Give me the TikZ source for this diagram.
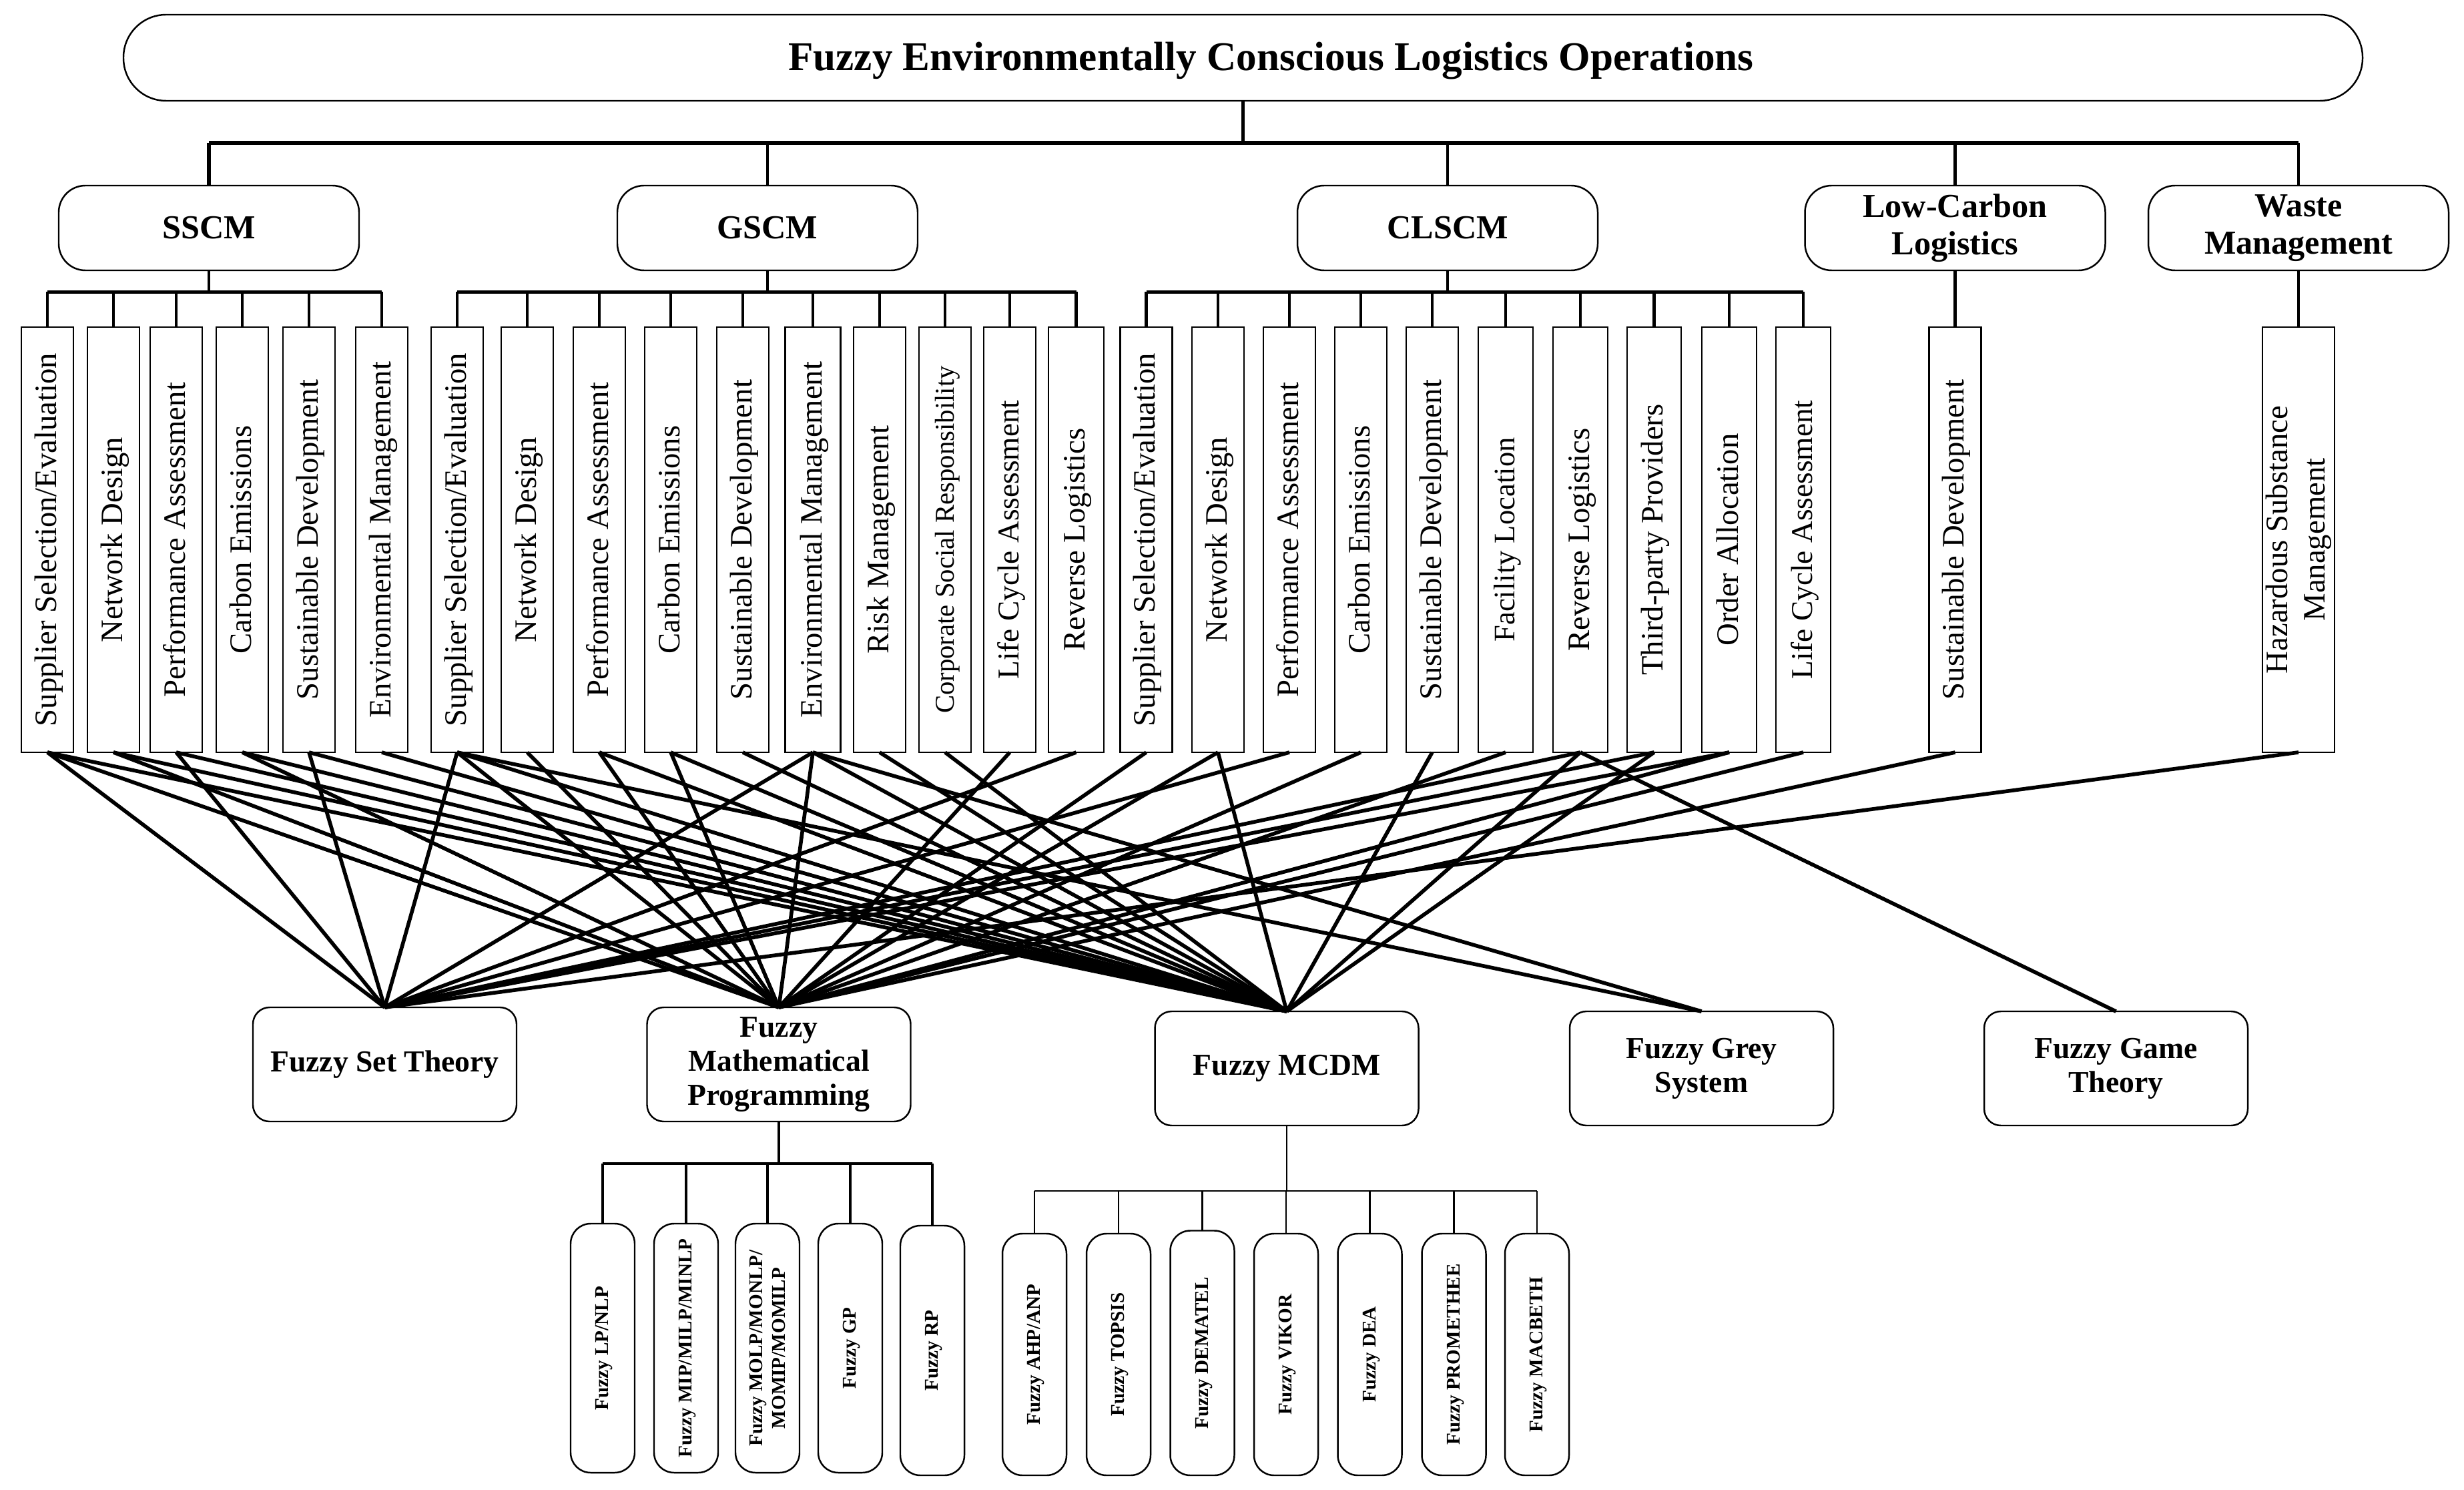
\documentclass[tikz,border=0pt]{standalone}
\usepackage{fontspec}
\setmainfont{Liberation Serif}
\tikzset{
  box/.style={draw=black,line width=0.7pt,inner sep=0pt,outer sep=0pt,align=center},
  titlebox/.style={box,rounded corners=0.64cm,minimum width=33.55cm,minimum height=1.29cm,text height=13.5pt,text depth=2.9pt,font=\fontsize{17.4}{20}\selectfont\bfseries},
  groupbox/.style={box,rounded corners=0.4cm,minimum width=4.5cm,minimum height=1.27cm,font=\fontsize{14.3}{16}\selectfont\bfseries},
  itembox/.style={box,rotate=90,minimum width=6.37cm,minimum height=0.78cm,text height=10pt,text depth=2.5pt,font=\fontsize{13.3}{16}\selectfont},
  fieldbox/.style={box,rounded corners=0.25cm,minimum width=3.95cm,minimum height=1.71cm,font=\fontsize{13}{14.4}\selectfont\bfseries},
  methodbox/.style={box,rotate=90,rounded corners=0.3cm,minimum height=0.96cm,text height=6.5pt,text depth=1.5pt,font=\fontsize{8.3}{9.5}\selectfont\bfseries},
  bus/.style={line width=1.6pt},
  branch/.style={line width=1.25pt},
  thinbranch/.style={line width=0.8pt},
  link/.style={line width=1.6pt}
}
\begin{document}
\begin{tikzpicture}
\useasboundingbox (0,0) rectangle (36.92,-22.32);

% top levels
\node[titlebox] (title) at (18.625,-0.865) {\hspace*{0.84cm}Fuzzy Environmentally Conscious Logistics Operations};
\node[groupbox] (sscm) at (3.13,-3.415) {SSCM};
\node[groupbox] (gscm) at (11.5,-3.415) {GSCM};
\node[groupbox] (clscm) at (21.69,-3.415) {CLSCM};
\node[groupbox] (lowc) at (29.295,-3.415) {Low-Carbon\\Logistics};
\node[groupbox] (waste) at (34.44,-3.415) {Waste\\Management};

% SSCM topics
\node[itembox] (s1) at (0.71,-8.085) {Supplier Selection/Evaluation};
\node[itembox] (s2) at (1.70,-8.085) {Network Design};
\node[itembox] (s3) at (2.64,-8.085) {Performance Assessment};
\node[itembox] (s4) at (3.63,-8.085) {Carbon Emissions};
\node[itembox] (s5) at (4.63,-8.085) {Sustainable Development};
\node[itembox] (s6) at (5.72,-8.085) {Environmental Management};

% GSCM topics
\node[itembox] (g1) at (6.85,-8.085) {Supplier Selection/Evaluation};
\node[itembox] (g2) at (7.90,-8.085) {Network Design};
\node[itembox] (g3) at (8.98,-8.085) {Performance Assessment};
\node[itembox] (g4) at (10.05,-8.085) {Carbon Emissions};
\node[itembox] (g5) at (11.13,-8.085) {Sustainable Development};
\node[itembox,minimum height=0.83cm] (g6) at (12.18,-8.085) {Environmental Management};
\node[itembox] (g7) at (13.18,-8.085) {Risk Management};
\node[itembox,font=\fontsize{11.6}{14}\selectfont] (g8) at (14.16,-8.085) {Corporate Social Responsibility};
\node[itembox,font=\fontsize{12.9}{16}\selectfont] (g9) at (15.13,-8.085) {Life Cycle Assessment};
\node[itembox,minimum height=0.83cm] (g10) at (16.125,-8.085) {Reverse Logistics};

% CLSCM topics
\node[itembox] (c1) at (17.175,-8.085) {Supplier Selection/Evaluation};
\node[itembox] (c2) at (18.25,-8.085) {Network Design};
\node[itembox] (c3) at (19.32,-8.085) {Performance Assessment};
\node[itembox] (c4) at (20.39,-8.085) {Carbon Emissions};
\node[itembox] (c5) at (21.46,-8.085) {Sustainable Development};
\node[itembox,minimum height=0.82cm,font=\fontsize{12.7}{16}\selectfont] (c6) at (22.56,-8.085) {Facility Location};
\node[itembox,minimum height=0.82cm] (c7) at (23.68,-8.085) {Reverse Logistics};
\node[itembox,minimum height=0.81cm] (c8) at (24.785,-8.085) {Third-party Providers};
\node[itembox,minimum height=0.82cm] (c9) at (25.91,-8.085) {Order Allocation};
\node[itembox,minimum height=0.82cm,font=\fontsize{12.9}{16}\selectfont] (c10) at (27.02,-8.085) {Life Cycle Assessment};

% single topics
\node[itembox] (l1) at (29.295,-8.085) {Sustainable Development};
\node[itembox,minimum height=1.08cm,text height=,text depth=] (w1) at (34.44,-8.085) {Hazardous Substance\\Management};

% fuzzy fields
\node[fieldbox] (fst) at (5.765,-15.945) {Fuzzy Set Theory};
\node[fieldbox] (fmp) at (11.67,-15.945) {Fuzzy\\Mathematical\\Programming};
\node[fieldbox] (mcdm) at (19.28,-16.005) {Fuzzy MCDM};
\node[fieldbox] (grey) at (25.495,-16.005) {Fuzzy Grey\\System};
\node[fieldbox] (game) at (31.705,-16.005) {Fuzzy Game\\Theory};

% methods below programming
\node[methodbox,minimum width=3.73cm] (p1) at (9.03,-20.195) {Fuzzy LP/NLP};
\node[methodbox,minimum width=3.73cm] (p2) at (10.28,-20.195) {Fuzzy MIP/MILP/MINLP};
\node[methodbox,minimum width=3.73cm,text height=,text depth=] (p3) at (11.50,-20.195) {Fuzzy MOLP/MONLP/\\MOMIP/MOMILP};
\node[methodbox,minimum width=3.73cm] (p4) at (12.74,-20.195) {Fuzzy GP};
\node[methodbox,minimum width=3.74cm] (p5) at (13.97,-20.23) {Fuzzy RP};

% methods below MCDM
\node[methodbox,minimum width=3.62cm] (m1) at (15.50,-20.29) {Fuzzy AHP/ANP};
\node[methodbox,minimum width=3.62cm] (m2) at (16.76,-20.29) {Fuzzy TOPSIS};
\node[methodbox,minimum width=3.665cm] (m3) at (18.015,-20.2675) {Fuzzy DEMATEL};
\node[methodbox,minimum width=3.62cm] (m4) at (19.27,-20.29) {Fuzzy VIKOR};
\node[methodbox,minimum width=3.62cm] (m5) at (20.525,-20.29) {Fuzzy DEA};
\node[methodbox,minimum width=3.62cm] (m6) at (21.785,-20.29) {Fuzzy PROMETHEE};
\node[methodbox,minimum width=3.62cm] (m7) at (23.03,-20.29) {Fuzzy MACBETH};

% bus junctions
\coordinate (topbus) at (18.625,-2.14);
\coordinate (sscmbus) at (3.13,-4.375);
\coordinate (gscmbus) at (11.5,-4.375);
\coordinate (clscmbus) at (21.69,-4.375);
\coordinate (fmpbus) at (11.67,-17.43);
\coordinate (mcdmbus) at (19.28,-17.84);

\draw[branch] (title.south) -- (topbus);
\draw[bus] (sscm.north |- topbus) -- (waste.north |- topbus);
\draw[bus] (sscm.north) -- (sscm.north |- topbus);
\draw[branch] (gscm.north) -- (gscm.north |- topbus);
\draw[branch] (clscm.north) -- (clscm.north |- topbus);
\draw[branch] (lowc.north) -- (lowc.north |- topbus);
\draw[branch] (waste.north) -- (waste.north |- topbus);

\draw[branch] (sscm.south) -- (sscmbus);
\draw[bus] (s1.east |- sscmbus) -- (s6.east |- sscmbus);
\foreach \i in {s1,s2,s3,s4,s5,s6}
  \draw[branch] (\i.east) -- (\i.east |- sscmbus);

\draw[branch] (gscm.south) -- (gscmbus);
\draw[bus] (g1.east |- gscmbus) -- (g10.east |- gscmbus);
\foreach \i in {g1,g2,g3,g4,g5,g6,g7,g8,g9,g10}
  \draw[branch] (\i.east) -- (\i.east |- gscmbus);

\draw[branch] (clscm.south) -- (clscmbus);
\draw[bus] (c1.east |- clscmbus) -- (c10.east |- clscmbus);
\foreach \i in {c1,c2,c3,c4,c5,c6,c7,c8,c9,c10}
  \draw[branch] (\i.east) -- (\i.east |- clscmbus);

\draw[branch] (lowc.south) -- (l1.east);
\draw[branch] (waste.south) -- (w1.east);

\draw[branch] (fmp.south) -- (fmpbus);
\draw[branch] (p1.east |- fmpbus) -- (p5.east |- fmpbus);
\foreach \i in {p1,p2,p3,p4,p5}
  \draw[branch] (\i.east) -- (\i.east |- fmpbus);

\draw[thinbranch] (mcdm.south) -- (mcdmbus);
\draw[thinbranch] (m1.east |- mcdmbus) -- (m7.east |- mcdmbus);
\foreach \i in {m1,m2,m3,m4,m5,m6,m7}
  \draw[thinbranch] (\i.east) -- (\i.east |- mcdmbus);

% topic to field links
\foreach \i in {s1,s3,s5,g1,g6,g10,c3,c7,c8,c9,w1}
  \draw[link] (\i.west) -- (fst.north);
\foreach \i in {s1,s2,s4,g1,g2,g3,g4,g6,g9,c1,c2,c4,c6,c9,c10,l1}
  \draw[link] (\i.west) -- (fmp.north);
\foreach \i in {s1,s2,s3,s4,s5,s6,g1,g3,g4,g5,g6,g7,g8,c2,c5,c7,c8}
  \draw[link] (\i.west) -- (mcdm.north);
\foreach \i in {g1,g6}
  \draw[link] (\i.west) -- (grey.north);
\draw[link] (c7.west) -- (game.north);
\end{tikzpicture}
\end{document}
